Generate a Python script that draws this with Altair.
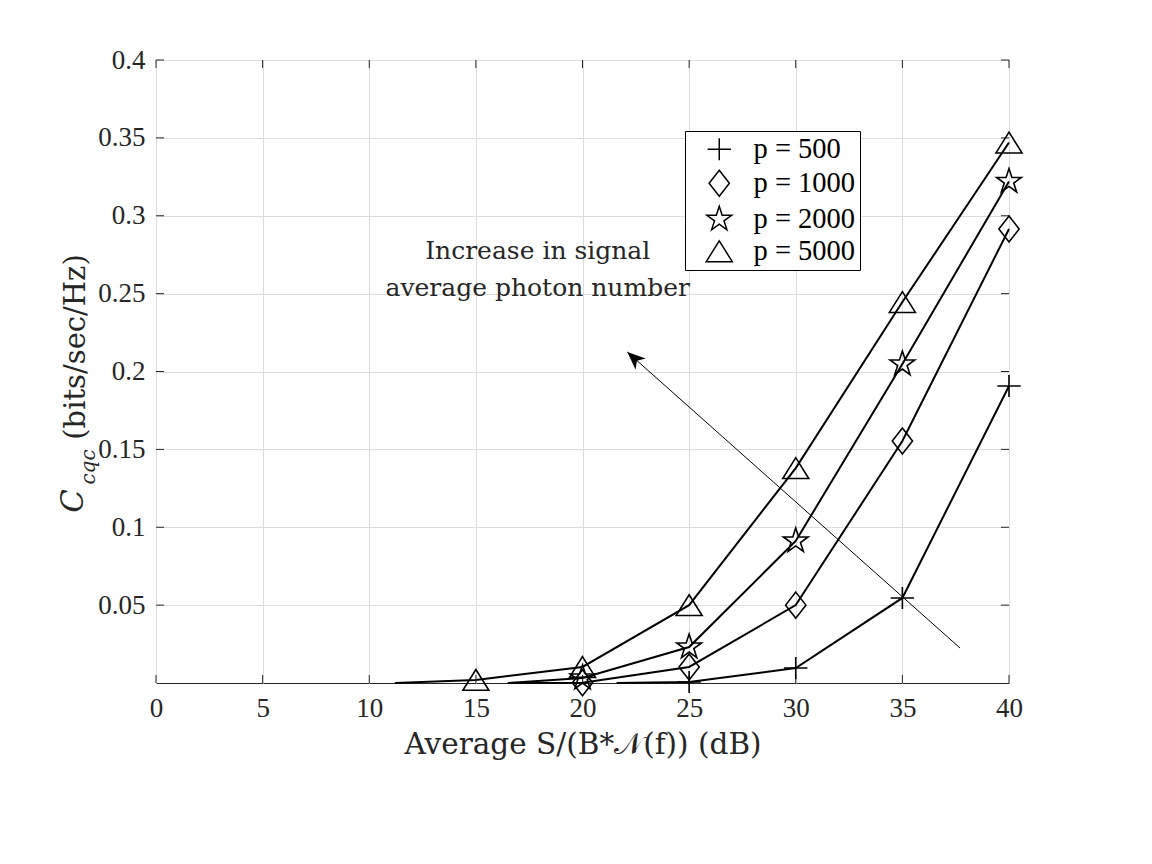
import altair as alt
import pandas as pd

# ---------------- data ----------------
series = ["p = 500", "p = 1000", "p = 2000", "p = 5000"]

# leading line segment start (no marker) for each series
start_x = [21.6, 16.5, 16.5, 11.2]
start_y = [0.0, 0.0, 0.0, 0.0]

# marker points
x500 = [25, 30, 35, 40]
y500 = [0.0006, 0.0096, 0.0546, 0.1907]
x1000 = [20, 25, 30, 35, 40]
y1000 = [0.0002, 0.0103, 0.0500, 0.1554, 0.2915]
x2000 = [20, 25, 30, 35, 40]
y2000 = [0.0032, 0.0231, 0.0912, 0.2048, 0.3220]
x5000 = [15, 20, 25, 30, 35, 40]
y5000 = [0.0020, 0.0103, 0.0500, 0.1380, 0.2446, 0.3470]

xs = [x500, x1000, x2000, x5000]
ys = [y500, y1000, y2000, y5000]

x_ticks = [0, 5, 10, 15, 20, 25, 30, 35, 40]
y_ticks = [0.05, 0.1, 0.15, 0.2, 0.25, 0.3, 0.35, 0.4]

arrow_x = [37.7, 22.1]
arrow_y = [0.0225, 0.2125]

note_lines = ["Increase in signal", "average photon number"]
note_x = [17.9, 17.9]
note_y = [0.2775, 0.2535]

# ---------------- tables ----------------
rows = []
for s, sx, sy, xv, yv in zip(series, start_x, start_y, xs, ys):
    rows.append({"series": s, "x": sx, "y": sy, "marker": False, "order": 0})
    for i, (a, b) in enumerate(zip(xv, yv)):
        rows.append({"series": s, "x": a, "y": b, "marker": True, "order": i + 1})
df = pd.DataFrame(rows)
df_marks = df[df["marker"]]

shape_paths = [
    "M-0.9,0H0.9M0,-0.85V0.85",
    "M0,-1L0.78,0L0,1L-0.78,0Z",
    "M0,-1L0.2245,-0.309L0.951,-0.309L0.363,0.118L0.588,0.809L0,0.382L-0.588,0.809L-0.363,0.118L-0.951,-0.309L-0.2245,-0.309Z",
    "M0,-0.8L1,0.8L-1,0.8Z",
]

W, H = 853, 623
xscale = alt.Scale(domain=[0, 40], nice=False, zero=False)
yscale = alt.Scale(domain=[0, 0.4], nice=False, zero=False)

SERIF = "Liberation Serif"
CM = "DejaVu Serif"

base = alt.Chart(df)

lines = base.mark_line(color="black", strokeWidth=2).encode(
    x=alt.X("x:Q", scale=xscale,
            axis=alt.Axis(values=x_ticks, format="d", title="Average S/(B*𝒩(f)) (dB)",
                          grid=True, gridColor="#dcdcdc", ticks=False, domain=False,
                          labelFont=SERIF, labelFontSize=27, labelColor="#262626",
                          labelPadding=12, labelFlush=False, titleFont=CM, titleFontSize=29.5,
                          titleFontWeight="normal", titleColor="#262626", titlePadding=9)),
    y=alt.Y("y:Q", scale=yscale,
            axis=alt.Axis(values=y_ticks, format=".2~f", title=None,
                          grid=True, gridColor="#dcdcdc", ticks=False, domain=False,
                          labelFont=SERIF, labelFontSize=27, labelColor="#262626",
                          labelPadding=11, labelFlush=False)),
    detail="series:N",
    order="order:Q",
)

points = alt.Chart(df_marks).mark_point(filled=False, color="black", strokeWidth=1.6, size=676, opacity=1).encode(
    x=alt.X("x:Q", scale=xscale),
    y=alt.Y("y:Q", scale=yscale),
    shape=alt.Shape("series:N", scale=alt.Scale(domain=series, range=shape_paths),
                    legend=alt.Legend(title=None, orient="none", legendX=529, legendY=71,
                                      strokeColor="black", fillColor="white", padding=4,
                                      symbolOffset=16, labelOffset=20,
                                      labelFont=SERIF, labelFontSize=28.5, labelColor="black",
                                      symbolSize=676, symbolStrokeWidth=1.5,
                                      symbolStrokeColor="black", symbolFillColor="transparent",
                                      rowPadding=3, symbolType="circle")),
)

# arrow
df_arrow = pd.DataFrame({"x": arrow_x, "y": arrow_y, "o": [0, 1]})
arrow_line = alt.Chart(df_arrow).mark_line(color="black", strokeWidth=1).encode(
    x=alt.X("x:Q", scale=xscale), y=alt.Y("y:Q", scale=yscale), order="o:Q")
arrow_head = alt.Chart(df_arrow.iloc[[1]]).mark_point(
    shape="M0,0L0.42,1L0,0.72L-0.42,1Z", filled=True, color="black", size=1300, angle=312, opacity=1
).encode(x=alt.X("x:Q", scale=xscale), y=alt.Y("y:Q", scale=yscale))

# annotation text
df_note = pd.DataFrame({"x": note_x, "y": note_y, "t": note_lines})
note = alt.Chart(df_note).mark_text(font=CM, fontSize=25, color="#262626", align="center", baseline="middle").encode(
    x=alt.X("x:Q", scale=xscale), y=alt.Y("y:Q", scale=yscale), text="t:N")

# inward ticks
df_xt = pd.DataFrame({"v": x_ticks})
df_yt = pd.DataFrame({"v": y_ticks})
tk = dict(color="#262626", strokeWidth=1)
xt_bottom = alt.Chart(df_xt).mark_rule(**tk).encode(x=alt.X("v:Q", scale=xscale), y=alt.value(H), y2=alt.value(H - 8))
xt_top = alt.Chart(df_xt).mark_rule(**tk).encode(x=alt.X("v:Q", scale=xscale), y=alt.value(0), y2=alt.value(8))
yt_left = alt.Chart(df_yt).mark_rule(**tk).encode(y=alt.Y("v:Q", scale=yscale), x=alt.value(0), x2=alt.value(8))
yt_right = alt.Chart(df_yt).mark_rule(**tk).encode(y=alt.Y("v:Q", scale=yscale), x=alt.value(W), x2=alt.value(W - 8))

# y axis title pieces (C_cqc (bits/sec/Hz))
ytitle_df = pd.DataFrame({"a": [0]})
yt_C = alt.Chart(ytitle_df).mark_text(font=CM, fontStyle="italic", fontSize=31, angle=270, color="#262626",
                                      align="center", baseline="middle").encode(
    x=alt.value(-82), y=alt.value(441), text=alt.value("C"))
yt_sub = alt.Chart(ytitle_df).mark_text(font=CM, fontStyle="italic", fontSize=20, angle=270, color="#262626",
                                        align="center", baseline="middle").encode(
    x=alt.value(-67), y=alt.value(407), text=alt.value("cqc"))
yt_rest = alt.Chart(ytitle_df).mark_text(font=CM, fontSize=29, angle=270, color="#262626",
                                         align="center", baseline="middle").encode(
    x=alt.value(-80), y=alt.value(287), text=alt.value("(bits/sec/Hz)"))

chart = alt.layer(
    lines, xt_bottom, xt_top, yt_left, yt_right, arrow_line, arrow_head, note, points,
    yt_C, yt_sub, yt_rest,
).properties(
    width=W, height=H,
    autosize=alt.AutoSizeParams(type="none"),
    padding={"left": 148, "top": 52, "right": 120, "bottom": 150},
    background="white",
).configure_view(stroke="#262626", strokeWidth=1)

chart.save("out.html", embed_options={"renderer": "svg", "actions": False})
